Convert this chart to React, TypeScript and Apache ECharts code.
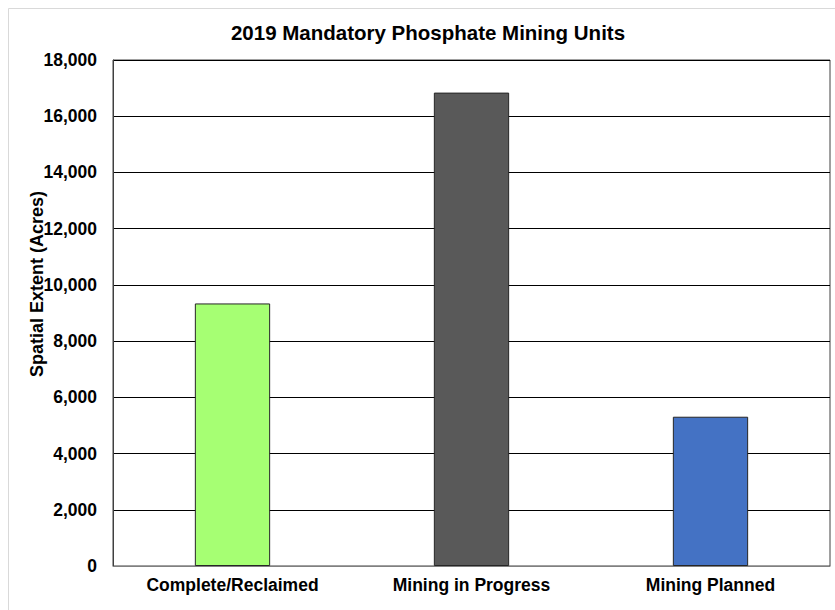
import React, { useEffect, useRef } from "react";
import * as echarts from "echarts";

const categories = ["Complete/Reclaimed", "Mining in Progress", "Mining Planned"];
const values = [9340, 16840, 5310];
const barColors = ["#a6ff73", "#595959", "#4472c4"];
const yTicks = { min: 0, max: 18000, interval: 2000 };
const yAxisTitle = "Spatial Extent (Acres)";

const FONT = "Arial, 'Liberation Sans', sans-serif";

export default function App() {
  const ref = useRef<HTMLDivElement>(null);
  useEffect(() => {
    if (!ref.current) return;
    const chart = echarts.init(ref.current, null, { renderer: "svg" });
    chart.setOption({
      animation: false,
      backgroundColor: "#ffffff",
      title: {
        text: "2019 Mandatory Phosphate Mining Units",
        left: 423,
        top: 17,
        textAlign: "center",
        textStyle: { fontFamily: FONT, fontSize: 20.5, fontWeight: "bold", color: "#000" },
      },
      graphic: [
        {
          type: "rect",
          shape: { x: 8.5, y: 8.5, width: 900, height: 700 },
          style: { fill: "none", stroke: "#d9d9d9", lineWidth: 1 },
          silent: true,
        },
        {
          type: "text",
          x: 37,
          y: 284,
          rotation: Math.PI / 2,
          style: {
            text: yAxisTitle,
            fontFamily: FONT,
            fontSize: 18,
            fontWeight: "bold",
            fill: "#000",
            align: "center",
            verticalAlign: "middle",
          },
          silent: true,
        },
      ],
      grid: {
        left: 113,
        top: 60,
        right: 5,
        bottom: 44,
        show: true,
        borderColor: "#404040",
        borderWidth: 1,
        backgroundColor: "transparent",
      },
      xAxis: {
        type: "category",
        data: categories,
        axisTick: { show: false },
        axisLine: { show: true, lineStyle: { color: "#808080", width: 1 } },
        axisLabel: {
          fontFamily: FONT,
          fontSize: 17.5,
          fontWeight: "bold",
          color: "#000",
          margin: 10,
          interval: 0,
        },
      },
      yAxis: {
        type: "value",
        min: yTicks.min,
        max: yTicks.max,
        interval: yTicks.interval,
        axisLine: { show: true, lineStyle: { color: "#404040", width: 1 } },
        axisTick: { show: false },
        splitLine: { show: true, lineStyle: { color: "#000", width: 1 } },
        axisLabel: {
          fontFamily: FONT,
          fontSize: 17.5,
          fontWeight: "bold",
          color: "#000",
          margin: 16,
          formatter: (v: number) => v.toLocaleString("en-US"),
        },
      },
      series: [
        {
          type: "bar",
          barWidth: "31.5%",
          data: values.map((v, i) => ({
            value: v,
            itemStyle: { color: barColors[i], borderColor: "#262626", borderWidth: 1 },
          })),
        },
      ],
    });
    return () => chart.dispose();
  }, []);
  return (
    <div
      ref={ref}
      style={{ position: "fixed", left: 0, top: 0, width: 835, height: 610 }}
    />
  );
}
